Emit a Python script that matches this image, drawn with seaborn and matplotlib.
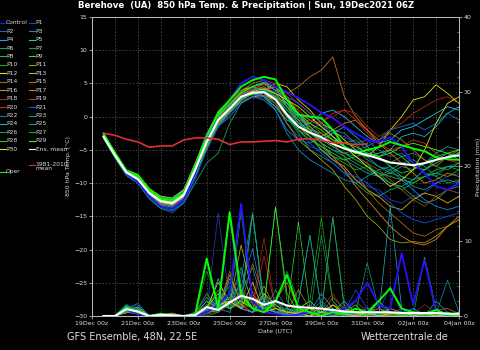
import matplotlib
matplotlib.use('Agg')
import matplotlib.pyplot as plt
import matplotlib.dates as mdates
from matplotlib.lines import Line2D
from matplotlib.ticker import MultipleLocator
import pandas as pd
import seaborn as sns

# valid times of the forecast steps (12 h spacing)
times = pd.date_range('2021-12-19 12:00', periods=32, freq='12h')

# 850 hPa temperature (degC)
t_ctrl = [-2.8, -5.6, -8.6, -9.8, -12.0, -13.5, -13.8, -12.5,
          -8.5, -3.5, 0.5, 2.5, 5.0, 6.0, 5.5, 4.5,
          3.7, 2.8, 1.8, 0.6, -0.2, -1.5, -2.5, -3.5,
          -3.8, -3.1, -4.5, -7.0, -8.5, -10.5, -11.0, -10.0]
t_oper = [-2.5, -5.5, -8.2, -8.8, -11.0, -12.3, -12.6, -11.5,
          -7.5, -3.0, 0.5, 2.5, 4.5, 5.5, 6.0, 5.6,
          2.5, 0.3, 0.0, -0.2, -2.0, -4.5, -5.5, -5.0,
          -4.6, -3.8, -4.3, -4.8, -5.2, -6.1, -6.4, -6.5]
t_mean = [-3.0, -5.8, -8.4, -9.4, -11.5, -12.7, -13.0, -11.8,
          -8.0, -3.8, -0.5, 1.2, 3.0, 3.6, 3.7, 2.6,
          0.3, -1.5, -2.4, -3.1, -4.1, -4.8, -5.3, -5.8,
          -6.3, -6.9, -7.1, -7.3, -7.0, -6.5, -6.1, -5.8]
t_clim = [-2.5, -2.8, -3.4, -3.8, -4.6, -4.4, -4.4, -3.5,
          -3.2, -3.2, -3.4, -4.2, -3.8, -3.8, -3.7, -3.6,
          -3.8, -3.4, -3.3, -3.6, -3.9, -4.0, -4.2, -4.1]

t_p1 = [-3.2, -6.0, -8.8, -9.6, -12.2, -13.8, -14.5, -13.0, -9.5, -5.0, -1.0, 1.0, 2.5, 3.0, 2.8, 1.5,
        -1.0, -3.0, -4.5, -5.0, -6.5, -8.0, -9.5, -10.5, -11.0, -12.5, -13.0, -12.0, -11.5, -10.0, -9.0, -8.5]
t_p2 = [-2.9, -5.5, -8.0, -9.0, -11.2, -12.5, -12.8, -11.0, -7.0, -2.5, 0.5, 2.0, 3.5, 4.0, 4.5, 3.0,
        0.5, -1.0, -2.0, -1.0, -2.5, -3.0, -4.0, -3.5, -5.0, -6.0, -5.5, -7.0, -8.5, -9.0, -7.5, -7.0]
t_p3 = [-3.1, -6.1, -8.5, -9.5, -11.8, -13.2, -13.4, -12.4, -9.0, -4.5, -1.5, 0.0, 2.0, 3.0, 2.5, 1.0,
        -2.0, -3.5, -4.0, -3.0, -2.0, -2.5, -4.0, -6.0, -7.5, -8.0, -9.5, -11.0, -12.5, -13.5, -14.0, -13.5]
t_p4 = [-2.7, -5.7, -8.3, -9.2, -11.0, -12.0, -12.2, -11.0, -8.5, -5.0, -1.5, 0.5, 2.5, 3.5, 4.0, 3.5,
        1.5, 0.0, -2.0, -4.0, -5.0, -5.5, -6.0, -7.0, -9.0, -10.0, -10.5, -9.5, -8.0, -6.5, -5.5, -6.0]
t_p5 = [-3.0, -5.9, -8.5, -9.3, -11.6, -12.9, -13.3, -12.0, -8.2, -4.0, -1.0, 1.0, 3.0, 4.0, 3.0, 1.5,
        -0.5, -1.5, -1.0, 0.5, 1.0, 0.0, -1.5, -3.0, -4.0, -3.5, -2.0, -1.5, -0.5, 0.5, 1.5, 1.0]
t_p6 = [-3.3, -6.2, -8.9, -10.0, -12.4, -13.8, -14.2, -13.0, -10.0, -7.0, -5.5, -1.0, 2.0, 3.0, 3.5, 2.5,
        0.0, -2.5, -5.0, -6.0, -7.0, -8.5, -10.0, -11.5, -12.0, -11.0, -10.5, -12.0, -13.0, -12.5, -11.0, -10.5]
t_p7 = [-2.6, -5.4, -8.0, -8.9, -11.0, -12.2, -12.5, -11.5, -7.5, -3.0, 0.0, 2.0, 3.5, 4.5, 4.0, 3.0,
        2.0, 0.5, -0.5, -1.5, -3.0, -4.0, -3.5, -5.0, -6.5, -7.0, -6.0, -5.5, -6.5, -7.5, -8.0, -7.0]
t_p8 = [-3.0, -5.8, -8.3, -9.0, -11.3, -12.5, -12.9, -12.0, -8.8, -4.5, -1.0, 1.5, 3.5, 4.5, 5.0, 4.0,
        2.0, -0.5, -2.5, -3.5, -4.5, -5.5, -6.5, -7.5, -8.5, -9.0, -9.5, -10.0, -9.0, -8.0, -7.5, -7.5]
t_p9 = [-2.8, -5.6, -8.2, -9.2, -11.4, -12.6, -12.7, -11.6, -7.8, -3.2, 0.2, 2.0, 3.8, 5.0, 5.5, 4.5,
        1.5, -1.0, -2.0, -2.5, -3.5, -4.5, -5.5, -6.0, -5.5, -5.0, -6.0, -7.5, -8.0, -7.0, -6.0, -5.5]
t_p10 = [-3.2, -6.0, -8.7, -9.7, -11.8, -13.0, -13.2, -12.0, -8.5, -4.2, -0.8, 1.0, 2.8, 3.5, 3.0, 2.0,
         0.0, -2.0, -3.0, -4.5, -6.0, -7.0, -8.0, -7.5, -8.5, -10.0, -11.0, -10.0, -9.0, -8.5, -9.0, -8.0]
t_p11 = [-2.9, -5.7, -8.4, -9.5, -11.5, -12.8, -13.0, -12.0, -8.0, -3.6, -0.3, 1.2, 3.0, 3.3, 3.5, 2.0,
         -1.0, -3.5, -5.0, -6.5, -8.0, -10.5, -12.5, -15.0, -16.5, -18.5, -19.0, -18.8, -19.0, -18.0, -16.5, -15.5]
t_p12 = [-2.6, -5.3, -8.0, -8.7, -10.8, -12.0, -12.3, -11.0, -7.0, -2.8, 0.8, 2.5, 4.0, 4.5, 4.0, 5.0,
         4.5, 2.5, 1.0, -1.0, -2.0, -3.5, -5.0, -6.0, -4.5, -2.0, 0.0, 2.5, 3.0, 4.8, 3.5, 2.0]
t_p13 = [-3.1, -5.9, -8.6, -9.6, -11.9, -13.1, -13.4, -12.2, -8.6, -4.2, -0.8, 0.8, 2.2, 3.0, 3.2, 2.5,
         0.5, -1.5, -3.0, -5.0, -6.5, -7.5, -9.5, -11.0, -12.0, -13.5, -14.0, -12.5, -11.5, -12.0, -13.0, -12.0]
t_p14 = [-2.8, -5.8, -8.5, -9.4, -11.7, -13.0, -13.1, -11.9, -7.8, -3.5, -0.2, 1.5, 3.2, 4.0, 4.5, 3.5,
         1.5, -0.5, -1.0, -2.5, -4.0, -6.0, -8.5, -11.0, -13.0, -14.5, -16.0, -17.5, -18.0, -17.0, -16.5, -15.5]
t_p15 = [-3.0, -5.6, -8.2, -9.1, -11.3, -12.5, -12.9, -11.6, -7.6, -3.3, 0.0, 1.8, 3.5, 4.0, 5.0, 4.5,
         3.5, 4.5, 6.0, 7.0, 9.0, 3.0, 0.0, -2.0, -3.5, -2.5, -3.5, -5.0, -6.5, -7.5, -6.0, -5.0]
t_p16 = [-2.9, -5.9, -8.7, -9.8, -12.0, -13.3, -13.6, -12.4, -8.8, -4.6, -1.2, 0.5, 2.5, 3.5, 4.0, 4.5,
         3.0, 0.5, -2.0, -4.0, -6.0, -8.0, -10.5, -12.5, -14.5, -16.5, -18.0, -19.0, -19.3, -18.5, -16.5, -15.0]
t_p17 = [-3.0, -5.7, -8.3, -9.3, -11.4, -12.6, -13.0, -11.7, -7.9, -3.7, -0.4, 1.3, 3.0, 3.8, 3.5, 3.0,
         2.0, 0.5, -1.5, -3.0, -2.0, -1.0, -0.5, -2.0, -4.0, -5.5, -7.0, -8.5, -10.0, -9.5, -8.5, -9.0]
t_p18 = [-2.8, -5.5, -8.1, -9.0, -11.1, -12.4, -12.6, -11.3, -7.2, -2.9, 0.5, 2.2, 4.0, 5.0, 5.5, 5.0,
         3.5, 2.0, 0.5, -0.5, 0.0, 1.0, 0.5, -1.5, -3.0, -2.0, -1.0, 0.5, 1.5, 2.5, 3.0, 2.0]
t_p19 = [-3.1, -6.0, -8.6, -9.7, -11.9, -13.2, -13.5, -12.3, -8.6, -4.3, -0.8, 1.0, 2.8, 3.5, 3.2, 2.0,
         0.0, -1.0, -0.5, -1.5, -3.0, -4.5, -6.0, -7.0, -8.0, -9.5, -11.0, -12.5, -13.5, -12.0, -11.0, -11.5]
t_p20 = [-2.7, -5.6, -8.3, -9.1, -11.2, -12.4, -12.7, -11.4, -7.4, -3.1, 0.3, 1.8, 3.4, 4.2, 4.8, 4.0,
         2.5, 1.0, -0.5, -1.0, 0.5, 1.0, -0.5, -2.5, -4.0, -5.0, -4.5, -3.5, -4.0, -5.5, -6.5, -7.0]
t_p21 = [-3.2, -6.1, -8.8, -9.9, -12.2, -13.6, -14.0, -12.8, -9.0, -4.8, -1.5, 0.5, 2.2, 3.0, 3.5, 2.5,
         0.5, -2.0, -4.0, -5.5, -7.0, -8.5, -9.0, -10.0, -11.5, -13.0, -14.5, -15.5, -16.0, -15.5, -15.0, -14.5]
t_p22 = [-2.9, -5.7, -8.4, -9.3, -11.5, -12.7, -13.0, -11.8, -8.0, -3.8, -0.5, 1.2, 3.0, 3.7, 4.0, 3.8,
         3.0, 2.0, 0.5, -1.0, -3.0, -4.5, -5.0, -4.5, -3.5, -2.0, -1.5, -1.0, -2.0, -1.0, 0.5, -0.5]
t_p23 = [-3.0, -5.8, -8.5, -9.4, -11.6, -12.8, -13.1, -11.9, -8.2, -4.0, -0.7, 1.0, 2.8, 3.4, 3.0, 1.0,
         -2.5, -5.0, -6.5, -7.5, -8.5, -9.5, -10.0, -9.0, -8.0, -7.5, -9.0, -10.5, -11.0, -10.0, -9.5, -10.0]
t_p24 = [-2.8, -5.5, -8.1, -9.0, -11.2, -12.3, -12.5, -11.2, -7.3, -3.0, 0.3, 2.0, 3.6, 4.5, 5.0, 4.0,
         2.0, 0.0, -1.5, -3.5, -2.5, -1.5, -3.0, -4.5, -6.0, -5.0, -3.0, -2.5, -3.0, -1.5, 0.5, 1.5]
t_p25 = [-3.1, -5.9, -8.6, -9.6, -11.8, -13.0, -13.4, -12.1, -8.4, -4.1, -0.6, 1.1, 2.9, 3.6, 3.8, 2.8,
         1.0, -0.5, -3.0, -5.0, -6.0, -6.5, -7.5, -8.5, -9.0, -8.5, -7.5, -8.0, -7.0, -5.5, -4.5, -5.0]
t_p26 = [-3.0, -5.8, -8.3, -9.3, -11.4, -12.6, -12.9, -11.7, -7.9, -3.6, -0.2, 1.5, 3.3, 4.0, 4.3, 3.2,
         1.0, -1.0, -2.5, -4.0, -5.0, -6.0, -7.0, -8.0, -9.0, -8.0, -7.0, -6.5, -7.5, -9.0, -10.0, -9.5]
t_p27 = [-2.7, -5.4, -8.0, -8.8, -10.9, -12.1, -12.4, -11.2, -7.2, -2.9, 0.4, 2.0, 3.6, 4.4, 4.0, 3.0,
         1.5, 0.5, -1.5, -3.0, -4.5, -5.5, -5.0, -6.5, -7.5, -8.5, -9.0, -9.5, -9.0, -8.5, -7.5, -8.0]
t_p28 = [-3.2, -6.1, -8.7, -9.8, -12.0, -13.3, -13.7, -12.5, -8.9, -4.6, -1.1, 0.7, 2.6, 3.4, 3.6, 2.5,
         0.0, -2.0, -3.5, -4.5, -5.5, -6.5, -6.0, -5.5, -6.0, -7.5, -8.5, -8.0, -7.0, -6.0, -5.5, -6.5]
t_p29 = [-2.9, -5.6, -8.2, -9.1, -11.3, -12.5, -12.8, -11.5, -7.6, -3.4, 0.1, 1.8, 3.6, 4.6, 5.2, 4.5,
         2.5, 0.5, -1.0, -2.0, -3.5, -4.0, -4.5, -5.5, -6.0, -5.5, -4.5, -4.0, -4.5, -5.0, -5.5, -5.0]
t_p30 = [-3.0, -5.9, -8.5, -9.5, -11.6, -12.9, -13.2, -12.0, -8.3, -4.0, -0.6, 1.1, 2.9, 3.8, 4.2, 3.5,
         2.5, 1.5, 0.0, -1.5, -3.0, -4.5, -6.0, -7.5, -9.0, -10.5, -9.5, -8.0, -5.0, -1.0, 2.0, 3.0]

# precipitation (mm)
p_ctrl = [0, 0, 0.8, 0.3, 0, 0.2, 0.1, 0, 0, 0.5, 1.5, 3.0, 15.0, 2.0, 0.5, 0.3,
          0, 0.2, 0.5, 0, 0.3, 1.0, 2.0, 4.5, 1.5, 1.0, 8.4, 1.5, 7.5, 0.5, 0.2, 0]
p_oper = [0, 0, 1.2, 0.5, 0, 0.3, 0, 0, 0.2, 7.7, 1.0, 13.9, 3.0, 1.0, 0.5, 2.0,
          5.5, 1.0, 0.5, 0, 0.5, 0.3, 1.0, 0.5, 2.0, 3.7, 1.0, 0.5, 0.3, 0.8, 0.2, 0]
p_mean = [0, 0, 0.9, 0.6, 0, 0.15, 0.1, 0, 0.1, 1.2, 0.8, 1.8, 2.7, 2.3, 1.5, 2.0,
          1.4, 1.2, 1.1, 1.0, 0.8, 0.6, 0.5, 0.5, 0.5, 0.5, 0.4, 0.4, 0.4, 0.4, 0.3, 0.3]

p_p1 = [0, 0, 1.5, 0.4, 0, 0.2, 0, 0, 0, 0.5, 13.8, 2.0, 1.0, 0.5, 2.5, 1.0,
        0, 0.5, 0, 1.0, 0.3, 0, 0.5, 1.2, 0, 0.5, 0.2, 0, 0.4, 0, 0, 0.2]
p_p2 = [0, 0, 1.0, 1.7, 0, 0.1, 0.2, 0, 0.3, 1.0, 3.0, 1.5, 6.0, 2.0, 0.5, 1.0,
        0.3, 0, 1.5, 0.5, 0, 0.8, 0, 0.3, 1.5, 0.5, 0, 0.2, 0, 0.5, 0, 0]
p_p3 = [0, 0, 0.7, 0.5, 0, 0, 0.3, 0, 0, 0.3, 1.0, 2.5, 4.0, 9.0, 1.5, 0.5,
        0, 1.0, 2.0, 0.5, 0, 0.3, 0.5, 0, 0, 0.3, 1.0, 0, 0.2, 0, 0.3, 0]
p_p4 = [0, 0, 0.5, 1.2, 0, 0.1, 0, 0, 0.5, 2.5, 1.0, 0.5, 3.5, 1.0, 3.0, 0.5,
        0.2, 0, 0.5, 3.0, 1.0, 0, 0, 0.5, 0.2, 0, 0, 0.5, 0, 2.0, 0.5, 0]
p_p5 = [0, 0, 1.1, 0.3, 0, 0, 0.2, 0, 0, 0.8, 5.0, 1.0, 2.0, 13.8, 1.5, 0.5,
        0, 0.5, 0, 1.5, 0.5, 2.0, 0.3, 0, 0, 0.5, 0, 1.0, 0.2, 0, 0, 0.5]
p_p6 = [0, 0, 0.9, 0.6, 0, 0.2, 0, 0, 0, 0, 0.5, 3.0, 1.0, 2.0, 0.5, 1.5,
        6.0, 2.0, 10.8, 1.0, 0.5, 0, 0.5, 7.1, 1.0, 0.5, 0, 0.3, 0, 0, 0.5, 0]
p_p7 = [0, 0, 1.3, 0.4, 0, 0.1, 0.1, 0, 0.2, 1.5, 2.0, 4.0, 1.0, 13.5, 2.0, 0.5,
        1.0, 0.3, 0, 10.8, 2.0, 0.5, 0, 0.2, 0.5, 0, 0.3, 0, 0.2, 0, 0, 0]
p_p8 = [0, 0, 0.6, 1.0, 0, 0, 0.2, 0, 0.4, 3.0, 1.0, 2.0, 6.5, 1.5, 1.0, 14.6,
        2.0, 0.5, 0, 0.5, 13.2, 1.0, 0, 0.5, 0, 1.0, 0.5, 0, 0.3, 0, 0, 0.2]
p_p9 = [0, 0, 1.0, 0.5, 0, 0.2, 0, 0, 0, 0.8, 0.5, 5.0, 2.5, 1.0, 0.5, 2.0,
        0.5, 12.6, 1.0, 0.5, 0, 0.5, 1.5, 0, 0.5, 0, 0, 0.5, 0, 0.2, 0, 0]
p_p10 = [0, 0, 1.4, 0.8, 0, 0.1, 0.3, 0, 0.2, 6.0, 2.0, 1.0, 3.0, 2.0, 1.0, 0.5,
         0, 1.0, 2.0, 13.2, 2.0, 0, 0.3, 0, 0, 0.2, 0, 0, 7.9, 1.0, 0, 0]
p_p11 = [0, 0, 0.5, 0.3, 0, 0.2, 0.4, 0, 0, 0.3, 1.0, 13.3, 2.0, 1.0, 4.0, 1.0,
         0.5, 0, 0, 0.5, 0, 0.3, 0, 0.2, 0, 0, 0, 0.1, 0, 0, 0, 0]
p_p12 = [0, 0, 0.8, 0.6, 0, 0.3, 0.1, 0, 0.1, 1.0, 4.5, 2.0, 1.0, 0.5, 3.0, 1.5,
         0.5, 0.5, 1.0, 0, 0.5, 0, 0.2, 0.5, 1.0, 0.3, 0.5, 0, 0, 0.5, 0, 0]
p_p13 = [0, 0, 0.4, 0.9, 0, 0.2, 0.2, 0, 0, 0.5, 2.0, 1.5, 9.5, 3.0, 1.0, 0.5,
         0, 0.8, 0.3, 0, 1.5, 0.5, 0, 0.3, 0, 0.5, 0, 0.2, 0, 0, 0.3, 0]
p_p14 = [0, 0, 0.7, 0.4, 0, 0.1, 0.3, 0, 0.3, 1.5, 1.0, 6.0, 1.5, 7.0, 2.5, 1.0,
         0.3, 0, 0.5, 1.0, 0, 0.2, 0.5, 0, 0.3, 0, 0, 0, 0, 0, 0, 0]
p_p15 = [0, 0, 0.6, 0.2, 0, 0.3, 0.1, 0, 0, 1.0, 3.5, 1.5, 2.0, 1.0, 0.5, 0.3,
         1.0, 0.5, 0, 0.2, 2.5, 1.0, 0.5, 0, 0.3, 1.0, 0.5, 0.3, 0, 0.8, 1.0, 0.3]
p_p16 = [0, 0, 0.5, 0.7, 0, 0.1, 0, 0, 0.2, 2.0, 1.0, 5.5, 1.5, 0.5, 1.0, 2.0,
         4.5, 1.0, 0.5, 0.3, 0, 0.5, 0, 0.2, 0, 0, 0.3, 0, 0, 0.5, 0, 0]
p_p17 = [0, 0, 0.9, 0.3, 0, 0.2, 0.2, 0, 0, 0.5, 1.5, 3.0, 1.0, 2.5, 0.5, 1.0,
         0.5, 3.5, 1.0, 0.5, 0.3, 0, 1.0, 0.5, 0, 0.2, 0, 0.5, 0, 0, 0.2, 0]
p_p18 = [0, 0, 1.2, 0.5, 0, 0, 0.3, 0, 0, 0.3, 0.5, 2.0, 4.0, 1.5, 10.4, 1.0,
         0.5, 0, 0.5, 1.0, 3.0, 0.5, 0, 0.5, 1.0, 0, 0.5, 0.3, 1.5, 0.5, 0, 0.3]
p_p19 = [0, 0, 0.7, 1.0, 0, 0.2, 0, 0, 0.3, 1.0, 2.5, 1.0, 1.5, 3.0, 1.0, 0.5,
         0.3, 1.5, 0.5, 0, 0.3, 0.5, 2.0, 0.5, 0, 0.5, 0.3, 0, 0, 0.3, 0, 0]
p_p20 = [0, 0, 0.8, 0.4, 0, 0.1, 0.2, 0, 0, 0.5, 1.0, 2.0, 1.0, 1.5, 8.0, 1.0,
         0.5, 0.3, 0, 0.5, 0.2, 0, 0.3, 0, 0.5, 0.2, 0, 0, 0.3, 0, 0.2, 0]
p_p21 = [0, 0, 1.6, 0.6, 0, 0.2, 0.1, 0, 0.1, 1.5, 2.0, 13.8, 1.0, 0.5, 1.0, 2.5,
         0.5, 0, 0.5, 0.3, 0, 0.5, 3.5, 1.0, 0.5, 4.0, 0.5, 1.0, 0, 0.5, 0, 0]
p_p22 = [0, 0, 1.0, 1.5, 0, 0.1, 0.2, 0, 0, 0.8, 2.0, 4.5, 1.0, 0.5, 1.5, 0.5,
         0, 1.0, 0.5, 0, 0.3, 0, 0.5, 0, 0.2, 0.5, 0, 0, 0.3, 0, 0, 0]
p_p23 = [0, 0, 0.5, 0.8, 0, 0.2, 0, 0, 0.2, 1.0, 1.5, 2.0, 3.0, 6.5, 1.0, 0.5,
         1.0, 0, 0.5, 2.0, 0.5, 0, 0.3, 1.0, 0.5, 0, 0.3, 0, 0.5, 0.3, 4.8, 0.5]
p_p24 = [0, 0, 0.7, 0.3, 0, 0, 0.2, 0, 0, 0.5, 1.0, 2.5, 1.0, 0.5, 2.0, 1.5,
         0, 0.5, 0.3, 0.5, 1.0, 0, 0.5, 0.3, 0, 14.6, 1.0, 0.5, 0, 0.3, 0, 0.5]
p_p25 = [0, 0, 1.2, 0.6, 0, 0.3, 0.1, 0, 0, 0.5, 2.0, 1.0, 5.0, 13.8, 1.0, 0.5,
         0.3, 2.0, 10.8, 1.0, 0.5, 0.5, 0, 0.3, 0.5, 0, 0.3, 0, 0.5, 0, 0.3, 0]
p_p26 = [0, 0, 0.8, 0.5, 0, 0.1, 0.2, 0, 0.2, 7.5, 1.5, 1.0, 2.0, 1.0, 0.5, 3.5,
         1.0, 0.5, 0, 0.5, 13.2, 1.5, 0.5, 0, 0.3, 0.5, 0, 0.2, 0, 0, 0, 0.2]
p_p27 = [0, 0, 0.6, 0.9, 0, 0.2, 0, 0, 0, 1.0, 0.5, 1.5, 13.9, 2.0, 1.0, 0.5,
         0.3, 1.5, 0.5, 0, 0.5, 0, 1.0, 0.5, 0, 0.3, 0.5, 0, 0.2, 0.5, 0, 0]
p_p28 = [0, 0, 1.1, 0.4, 0, 0.1, 0.1, 0, 0.3, 2.0, 1.0, 3.0, 1.5, 2.5, 1.0, 1.5,
         0.5, 1.0, 2.0, 0.5, 0, 0.5, 0.3, 0, 0.5, 0, 0.2, 0.3, 0, 0, 0.5, 0]
p_p29 = [0, 0, 0.9, 1.2, 0, 0.2, 0.3, 0, 0, 1.2, 3.0, 1.0, 2.0, 1.0, 1.5, 14.6,
         3.0, 0.5, 1.0, 0.5, 0.3, 1.0, 0.5, 0, 2.0, 0.5, 0, 0.3, 0.5, 0, 0, 0.3]
p_p30 = [0, 0, 0.7, 0.5, 0, 0.2, 0, 0, 0, 0.5, 1.5, 2.0, 1.0, 4.5, 0.5, 1.0,
         0.5, 0.3, 0, 0.5, 1.5, 0.3, 0, 0.5, 0, 0.3, 0.5, 0, 0.3, 0, 0.2, 0]

members = ['P%d' % i for i in range(1, 31)]
member_temps = [t_p1, t_p2, t_p3, t_p4, t_p5, t_p6, t_p7, t_p8, t_p9, t_p10,
                t_p11, t_p12, t_p13, t_p14, t_p15, t_p16, t_p17, t_p18, t_p19, t_p20,
                t_p21, t_p22, t_p23, t_p24, t_p25, t_p26, t_p27, t_p28, t_p29, t_p30]
member_pcps = [p_p1, p_p2, p_p3, p_p4, p_p5, p_p6, p_p7, p_p8, p_p9, p_p10,
               p_p11, p_p12, p_p13, p_p14, p_p15, p_p16, p_p17, p_p18, p_p19, p_p20,
               p_p21, p_p22, p_p23, p_p24, p_p25, p_p26, p_p27, p_p28, p_p29, p_p30]
member_colors = ['#2040c0', '#2060d0', '#2080e0', '#20a0e0', '#20c0e0',
                 '#10a070', '#10a050', '#20c040', '#30e030', '#10b010',
                 '#a0a000', '#e0e000', '#e0b000', '#a07000', '#b07020',
                 '#e08020', '#e07010', '#a03010', '#a04020', '#e02020',
                 '#1050ff', '#1070d0', '#1090c0', '#20b0d0', '#10a090',
                 '#10a060', '#10b040', '#20d020', '#40f020', '#e0e020']
ctrl_color = '#2a10ff'
oper_color = '#00ff00'
clim_color = '#e03030'

frames = [pd.DataFrame({'time': times, 'temp': t, 'pcp': p, 'run': n})
          for n, t, p in zip(members, member_temps, member_pcps)]
df = pd.concat(frames, ignore_index=True)
palette = dict(zip(members, member_colors))

txt = '#dddddd'
fig = plt.figure(figsize=(4.8, 3.5), dpi=100, facecolor='black')
ax = fig.add_axes([92 / 480, 1 - 316 / 350, 367 / 480, 299 / 350])
ax.set_facecolor('black')
ax2 = ax.twinx()

# temperature
sns.lineplot(data=df, x='time', y='temp', hue='run', palette=palette, estimator=None,
             linewidth=0.6, legend=False, ax=ax)
sns.lineplot(x=times, y=t_ctrl, color=ctrl_color, linewidth=1.3, ax=ax)
sns.lineplot(x=times, y=t_oper, color=oper_color, linewidth=1.4, ax=ax)
sns.lineplot(x=times, y=t_mean, color='white', linewidth=1.5, ax=ax)
sns.lineplot(x=times[:len(t_clim)], y=t_clim, color=clim_color, linewidth=1.2, ax=ax)

# precipitation
sns.lineplot(data=df, x='time', y='pcp', hue='run', palette=palette, estimator=None,
             linewidth=0.5, legend=False, ax=ax2)
sns.lineplot(x=times, y=p_ctrl, color=ctrl_color, linewidth=1.3, ax=ax2)
sns.lineplot(x=times, y=p_oper, color=oper_color, linewidth=1.4, ax=ax2)
sns.lineplot(x=times, y=p_mean, color='white', linewidth=1.5, ax=ax2)

ax.set_xlim(pd.Timestamp('2021-12-19'), pd.Timestamp('2022-01-04'))
ax.set_ylim(-30, 15)
ax.set_yticks(range(-30, 16, 5))
ax2.set_ylim(0, 40)
ax2.set_yticks(range(0, 41, 10))
ax2.yaxis.set_minor_locator(MultipleLocator(2))

ax.xaxis.set_major_locator(mdates.DayLocator(interval=2))
ax.xaxis.set_major_formatter(mdates.DateFormatter('%d%b %Hz'))
ax.xaxis.set_minor_locator(mdates.DayLocator())

grid_kw = dict(color='#4a4a4a', linestyle=(0, (2, 2)), linewidth=0.6)
ax.grid(which='both', axis='x', **grid_kw)
ax.grid(which='major', axis='y', **grid_kw)
ax.set_axisbelow(True)

for a in (ax, ax2):
    for s in a.spines.values():
        s.set_color('#bbbbbb')
        s.set_linewidth(0.7)
    a.tick_params(colors=txt, labelsize=4.5, length=2, width=0.5, pad=1.5)
ax.tick_params(axis='x', which='minor', length=0)
ax2.tick_params(which='minor', direction='in', length=1.5, width=0.4, colors='#bbbbbb')

ax.set_xlabel('Date (UTC)', fontsize=4.5, color=txt, labelpad=2)
ax.set_ylabel('850 hPa Temp. (°C)', fontsize=4.5, color=txt, labelpad=2)
ax2.set_ylabel('Precipitation (mm)', fontsize=4.5, color=txt, labelpad=3)

fig.text(246 / 480, 1 - 6 / 350, 'Berehove  (UA)  850 hPa Temp. & Precipitation | Sun, 19Dec2021 06Z',
         ha='center', va='center', fontsize=6.2, fontweight='bold', color='white')
fig.text(67 / 480, 1 - 337 / 350, 'GFS Ensemble, 48N, 22.5E', ha='left', va='center',
         fontsize=7, color=txt)
fig.text(448 / 480, 1 - 337 / 350, 'Wetterzentrale.de', ha='right', va='center',
         fontsize=7, color=txt)


# legend down the left margin
def key(px, py, color, label, ty=None, va='center'):
    fig.add_artist(Line2D([px / 480, (px + 6) / 480], [1 - py / 350] * 2,
                          transform=fig.transFigure, color=color, linewidth=0.8))
    ty = py if ty is None else ty
    fig.text((px + 6.5) / 480, 1 - ty / 350, label, fontsize=4.3, color=txt,
             va=va, ha='left', linespacing=0.95)


row = lambda r: 22.7 + 8.44 * r
key(-0.5, row(0), ctrl_color, 'Control')
for i, (n, c) in enumerate(zip(members, member_colors)):
    num = i + 1
    if num % 2 == 0:
        key(-0.5, row(num // 2), c, n)
    else:
        key(29, row(num // 2), c, n)
key(29, row(15), 'white', 'Ens. mean')
key(29, 165, clim_color, '1981-2010\nmean', ty=161.5, va='top')
key(-0.5, 172, oper_color, 'Oper')

fig.savefig('out.png', dpi=100, facecolor='black')
